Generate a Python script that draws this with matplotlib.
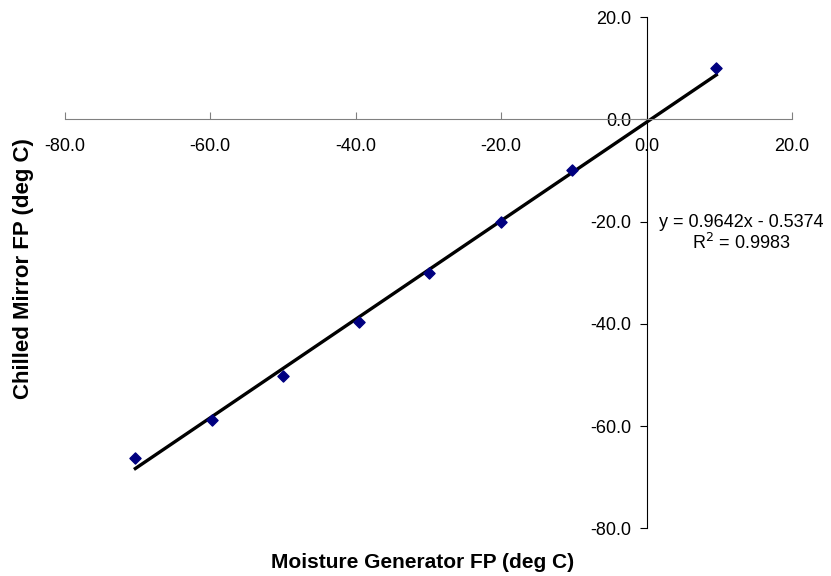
import numpy as np
import matplotlib
matplotlib.use('Agg')
import matplotlib.pyplot as plt

plt.rcParams['font.family'] = ['Liberation Sans', 'DejaVu Sans']

# Readings (deg C)
generator_fp = [-70.3, -59.7, -50.0, -39.6, -29.9, -20.0, -10.2, 9.6]
mirror_fp = [-66.3, -58.8, -50.2, -39.7, -30.0, -20.0, -9.8, 10.0]
slope = 0.9642
intercept = -0.5374
r_squared = 0.9983
ticks = [-80, -60, -40, -20, 0, 20]

fig = plt.figure(figsize=(8.31, 5.76), dpi=100)
ax = fig.add_axes([0.078, 0.083, 0.875, 0.887])

x = np.array(generator_fp)
ax.scatter(generator_fp, mirror_fp, marker='D', s=32, color='#000080', zorder=3)
fit_x = np.array([x.min(), x.max()])
ax.plot(fit_x, slope * fit_x + intercept, color='black', lw=2.4, zorder=2)

ax.set_xlim(-80, 20)
ax.set_ylim(-80, 20)
ax.set_xticks(ticks)
ax.set_yticks(ticks)
ax.set_xticklabels([f'{t:.1f}' for t in ticks])
ax.set_yticklabels([f'{t:.1f}' for t in ticks])

ax.spines['left'].set_position(('data', 0))
ax.spines['bottom'].set_position(('data', 0))
ax.spines['right'].set_visible(False)
ax.spines['top'].set_visible(False)
ax.spines['bottom'].set_color('#808080')
ax.spines['left'].set_color('black')
ax.tick_params(axis='x', direction='in', length=5, color='#808080', labelsize=13, pad=13)
ax.tick_params(axis='y', direction='out', length=5, color='black', labelsize=13, pad=6)

ax.text(13, -22.3, f'y = {slope}x - {abs(intercept)}\nR$^2$ = {r_squared}',
        ha='center', va='center', fontsize=13, linespacing=1.15)

fig.text(0.508, 0.024, 'Moisture Generator FP (deg C)', ha='center', va='center',
         fontsize=15, fontweight='bold')
fig.text(0.028, 0.534, 'Chilled Mirror FP (deg C)', ha='center', va='center',
         rotation=90, fontsize=16, fontweight='bold')

fig.savefig('out.png', dpi=100)
